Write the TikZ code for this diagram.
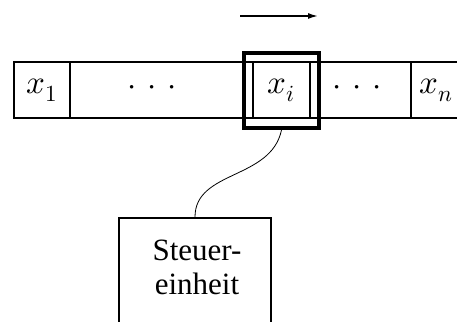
\documentclass[tikz,border=0pt]{standalone}
\usepackage{fontspec}
\setmainfont{Liberation Serif}
\usepackage{unicode-math}
\setmathfont{Latin Modern Math}
\usetikzlibrary{arrows.meta}
\newcommand{\wdots}{${\cdot}\hspace{11pt}{\cdot}\hspace{11pt}{\cdot}$}
\begin{document}
\begin{tikzpicture}[x=1pt,y=-1pt,
  tape/.style={line width=1.8pt},
  celltext/.style={font=\fontsize{33}{36}\selectfont},
  headbox/.style={draw,line width=4pt,minimum width=75pt,minimum height=75pt,inner sep=0pt},
  ctrltext/.style={font=\fontsize{31}{34}\selectfont,align=center}]
\useasboundingbox (0,0) rectangle (457,321);
% tape
\draw[tape] (470,62) -- (14,62) -- (14,118) -- (470,118);
\draw[tape] (70,62) -- (70,118);
\draw[tape] (253,62) -- (253,118);
\draw[tape] (310,62) -- (310,118);
\draw[tape] (411,62) -- (411,118);
\node[celltext] (c1) at (42,90) {$x_1$};
\node[celltext] (c2) at (152,90) {\wdots};
\node[celltext] (c3) at (281.5,90) {$x_i$};
\node[celltext] (c4) at (357,90) {\wdots};
\node[celltext] (c5) at (436,90) {$x_n$};
% head
\node[headbox] (head) at (281.5,90.5) {};
% direction arrow
\coordinate (a1) at (240,16);
\coordinate (a2) at (318,16);
\draw[line width=1.5pt,-{Latex[length=10pt,width=6pt]}] (a1) -- (a2);
% control unit
\draw[line width=2pt] (119,330) -- (119,218) -- (271,218) -- (271,330);
\coordinate (ctop) at (195,217);
\node[ctrltext] (ctrl) at (197,267) {Steuer-\\einheit};
\draw[line width=0.8pt] (head.south) .. controls (271,180) and (195,170) .. (ctop);
\end{tikzpicture}
\end{document}
